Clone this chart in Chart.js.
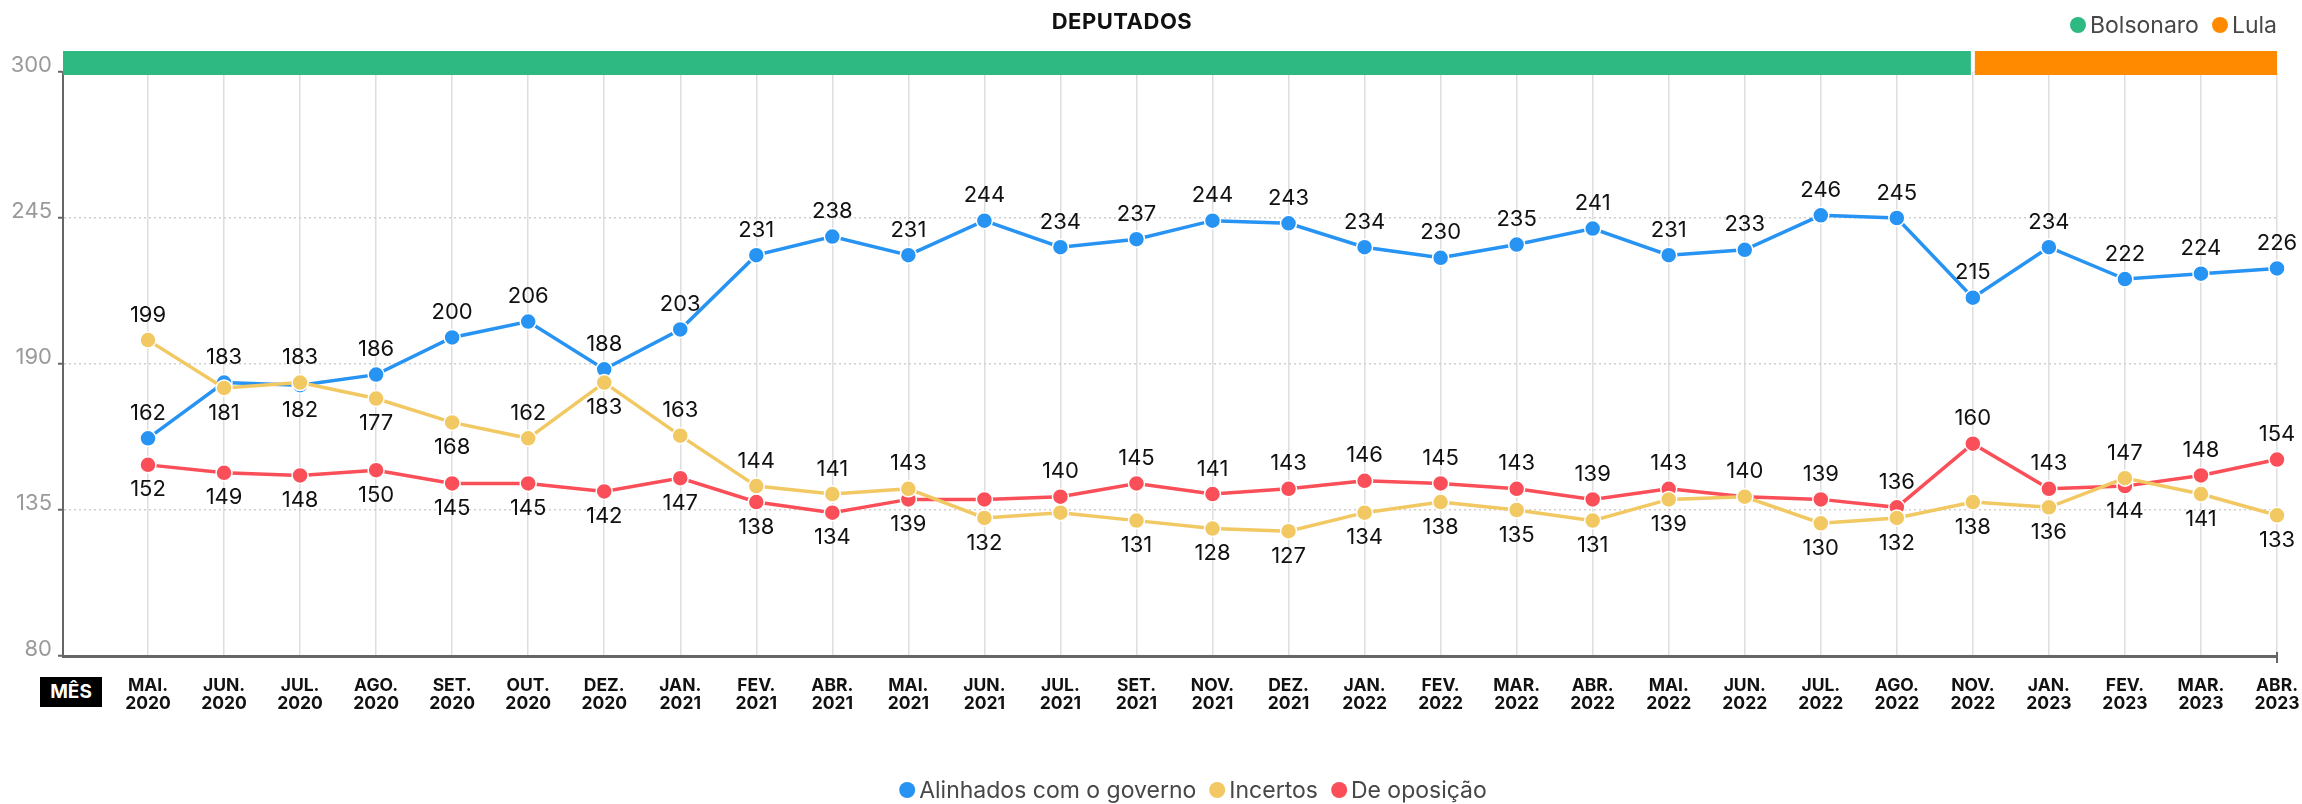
<!DOCTYPE html>
<html>
<head>
<meta charset="utf-8">
<title>Deputados</title>
<script src="https://cdn.jsdelivr.net/npm/chart.js@4.4.0/dist/chart.umd.min.js"></script>
<style>
    html, body { margin: 0; padding: 0; background: #fff; }
    #wrap { position: relative; width: 2302px; height: 804px; font-family: Inter, sans-serif; }
    #wrap canvas { position: absolute; left: 0; top: 0; }
    .title { position: absolute; left: 0; top: 8px; width: 2244px; text-align: center;
             font-weight: 700; font-size: 22px; line-height: 26px; color: #111; letter-spacing: 0.5px; }
    .legend { position: absolute; display: flex; align-items: center; font-size: 23px;
              line-height: 26px; color: #474747; white-space: nowrap; }
    .legend .dot { width: 16px; height: 16px; border-radius: 50%; margin-right: 4px; }
    .legend .item { display: flex; align-items: center; margin-right: 13px; }
    .legend .item:last-child { margin-right: 0; }
    .top-legend { right: 25px; top: 12px; }
    .bottom-legend { left: 1193px; top: 777px; transform: translateX(-50%); }
    .mes { position: absolute; left: 40px; top: 677px; width: 62px; height: 30px; background: #000;
           color: #fff; font-weight: 700; font-size: 19px; line-height: 30px; text-align: center; }
</style>
</head>
<body>
<div id="wrap">
    <canvas id="chart" width="2302" height="804"></canvas>
    <div class="title">DEPUTADOS</div>
    <div class="legend top-legend" id="gov-legend"></div>
    <div class="legend bottom-legend" id="series-legend"></div>
    <div class="mes">MÊS</div>
</div>
<script>
// Months surveyed (x axis)
const months = [
    'MAI. 2020', 'JUN. 2020', 'JUL. 2020', 'AGO. 2020', 'SET. 2020', 'OUT. 2020', 'DEZ. 2020',
    'JAN. 2021', 'FEV. 2021', 'ABR. 2021', 'MAI. 2021', 'JUN. 2021', 'JUL. 2021', 'SET. 2021',
    'NOV. 2021', 'DEZ. 2021', 'JAN. 2022', 'FEV. 2022', 'MAR. 2022', 'ABR. 2022', 'MAI. 2022',
    'JUN. 2022', 'JUL. 2022', 'AGO. 2022', 'NOV. 2022', 'JAN. 2023', 'FEV. 2023', 'MAR. 2023',
    'ABR. 2023'
];

// Number of deputies per group
const alinhados = [162, 183, 182, 186, 200, 206, 188, 203, 231, 238, 231, 244, 234, 237, 244,
                   243, 234, 230, 235, 241, 231, 233, 246, 245, 215, 234, 222, 224, 226];
const incertos  = [199, 181, 183, 177, 168, 162, 183, 163, 144, 141, 143, 132, 134, 131, 128,
                   127, 134, 138, 135, 131, 139, 140, 130, 132, 138, 136, 147, 141, 133];
const oposicao  = [152, 149, 148, 150, 145, 145, 142, 147, 138, 134, 139, 139, 140, 145, 141,
                   143, 146, 145, 143, 139, 143, 140, 139, 136, 160, 143, 144, 148, 154];

// Where each value label sits: t = above the point, b = below, '' = not shown
const alinhadosLabel = ['t','t','b','t','t','t','t','t','t','t','t','t','t','t','t',
                        't','t','t','t','t','t','t','t','t','t','t','t','t','t'];
const incertosLabel  = ['t','b','t','b','b','t','b','t','t','t','t','b','','b','b',
                        'b','b','b','b','b','b','','b','b','b','b','t','b','b'];
const oposicaoLabel  = ['b','b','b','b','b','b','b','b','b','b','b','','t','t','t',
                        't','t','t','t','t','t','t','t','t','t','t','b','t','t'];

const yTicks = [80, 135, 190, 245, 300];

// Government periods shown in the band on top
const governos = ['Bolsonaro', 'Lula'];
const governoInicio = [null, 'NOV. 2022']; // null = start of the axis
const governoCores = ['#2eb882', '#ff8a00'];

const seriesNames = ['Alinhados com o governo', 'Incertos', 'De oposição'];
const seriesColors = ['#2793f2', '#f1c862', '#fa4f58'];

// Value labels drawn next to each point
const pointLabels = {
    id: 'pointLabels',
    afterDatasetsDraw(chart) {
        const ctx = chart.ctx;
        ctx.save();
        ctx.font = '22px Inter';
        ctx.fillStyle = '#111';
        ctx.textAlign = 'center';
        ctx.textBaseline = 'middle';
        chart.data.datasets.forEach((ds, di) => {
            const meta = chart.getDatasetMeta(di);
            meta.data.forEach((pt, i) => {
                const where = ds.labelPos[i];
                if (!where) return;
                ctx.fillText(ds.data[i].y, pt.x, pt.y + (where === 't' ? -25 : 25));
            });
        });
        ctx.restore();
    }
};

// Coloured band with the government periods + closing tick of the x axis
const governoBand = {
    id: 'governoBand',
    afterDraw(chart) {
        const { ctx, chartArea: { left, right, top, bottom }, scales: { x } } = chart;
        ctx.save();
        governos.forEach((g, k) => {
            const start = governoInicio[k] === null ? left
                : x.getPixelForValue(months.indexOf(governoInicio[k])) + 2;
            const end = k + 1 < governos.length
                ? x.getPixelForValue(months.indexOf(governoInicio[k + 1])) - 2 : right;
            ctx.fillStyle = governoCores[k];
            ctx.fillRect(start, top - 21, end - start, 24);
        });
        ctx.strokeStyle = '#666';
        ctx.lineWidth = 2;
        ctx.beginPath();
        ctx.moveTo(right, bottom - 4);
        ctx.lineTo(right, bottom + 7);
        ctx.stroke();
        ctx.restore();
    }
};

function makeDataset(i, values, labelPos, order) {
    return {
        label: seriesNames[i],
        data: values.map((v, k) => ({ x: k, y: v })),
        labelPos: labelPos,
        borderColor: seriesColors[i],
        backgroundColor: seriesColors[i],
        borderWidth: 3.5,
        pointRadius: 8,
        pointBorderColor: '#fff',
        pointBorderWidth: 1.5,
        tension: 0,
        clip: false,
        order: order
    };
}

function buildLegend(id, names, colors) {
    const box = document.getElementById(id);
    names.forEach((n, i) => {
        const item = document.createElement('div');
        item.className = 'item';
        item.innerHTML = '<span class="dot" style="background:' + colors[i] + '"></span><span>' + n + '</span>';
        box.appendChild(item);
    });
}

buildLegend('gov-legend', governos, governoCores);
buildLegend('series-legend', seriesNames, seriesColors);

new Chart(document.getElementById('chart'), {
    type: 'line',
    data: {
        datasets: [
            makeDataset(0, alinhados, alinhadosLabel, 2),
            makeDataset(1, incertos, incertosLabel, 0),
            makeDataset(2, oposicao, oposicaoLabel, 1)
        ]
    },
    options: {
        responsive: false,
        animation: false,
        events: [],
        layout: { padding: { top: 72, right: 25, bottom: 0, left: 0 } },
        plugins: {
            legend: { display: false },
            title: { display: false },
            tooltip: { enabled: false }
        },
        scales: {
            x: {
                type: 'linear',
                min: -1.118, // empty gap between the y axis and the first month
                max: months.length - 1,
                afterBuildTicks: s => { s.ticks = months.map((m, i) => ({ value: i })); },
                afterFit: s => { s.height = 148; s.paddingLeft = 0; s.paddingRight = 0; },
                grid: { color: '#dedede', lineWidth: 1.5, drawTicks: false },
                border: { color: '#666', width: 3 },
                ticks: {
                    autoSkip: false,
                    maxRotation: 0,
                    padding: 21,
                    color: '#111',
                    font: { family: 'Inter', weight: 'bold', size: 17.5, lineHeight: 1.0 },
                    callback: v => months[v] ? months[v].split(' ') : ''
                }
            },
            y: {
                min: yTicks[0],
                max: yTicks[yTicks.length - 1],
                afterBuildTicks: s => { s.ticks = yTicks.map(v => ({ value: v })); },
                afterFit: s => { s.width = 63; },
                grid: {
                    color: '#cfcfcf', lineWidth: 1.5,
                    drawTicks: true, tickLength: 5, tickColor: '#666', tickWidth: 2
                },
                border: { color: '#666', width: 2, dash: [2, 3] },
                ticks: {
                    padding: 6,
                    labelOffset: -7,
                    color: '#9a9a9a',
                    font: { family: 'Inter', size: 22 }
                }
            }
        }
    },
    plugins: [governoBand, pointLabels]
});
</script>
</body>
</html>
